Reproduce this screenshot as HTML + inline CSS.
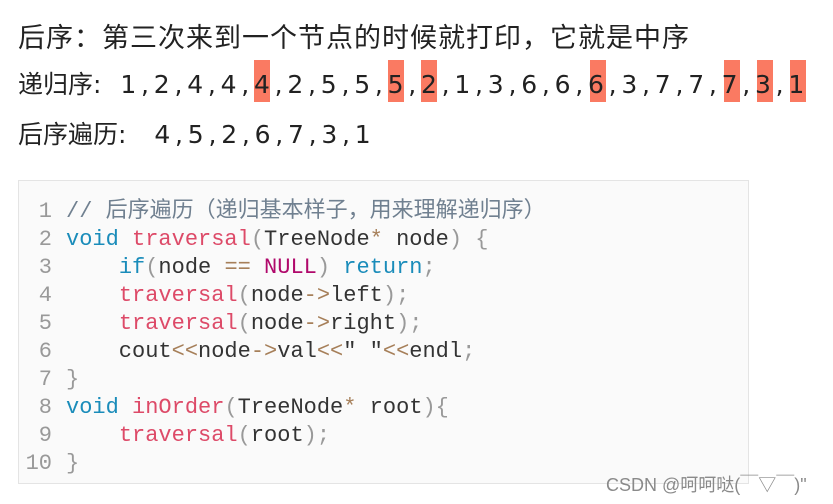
<!DOCTYPE html>
<html><head><meta charset="utf-8"><style>
body{margin:0;width:833px;height:504px;background:#fff;position:relative;overflow:hidden;font-family:"Liberation Sans","Noto Sans CJK SC",sans-serif;color:#222}
.t{position:absolute;font-size:25px;line-height:30px;white-space:nowrap}
.c{position:absolute;width:16.7px;text-align:center;font-size:25px;line-height:30px;font-family:"DejaVu Sans",sans-serif}
.hl{position:absolute;background:#fa7a62;width:16px;height:42px}
.box{position:absolute;left:18px;top:180px;width:731px;height:304px;background:#fafafa;border:1px solid #e4e4e4;box-sizing:border-box}
.code{position:absolute;left:20px;top:198px;font-family:"Liberation Mono","Noto Sans CJK SC",monospace;font-size:22px;line-height:28px;white-space:pre;color:#333}
.ln{color:#999;display:inline-block;width:32px;text-align:right;margin-right:14px}
.k{color:#1a8cba}.f{color:#dd4a68}.o{color:#a67f59}.n{color:#b0086b}.p{color:#999}.cm{color:#708090}
.wm{position:absolute;left:606px;top:471px;font-size:18px;color:#8a8a8a;white-space:nowrap}
</style></head><body>
<div class="t" style="left:18px;top:23px;font-size:27px;letter-spacing:1px">后序：第三次来到一个节点的时候就打印，它就是中序</div>
<div class="t" style="left:18px;top:70px">递归序<span style="font-family:'DejaVu Sans'">:</span></div>
<div class="hl" style="left:254px;top:60px"></div>
<div class="hl" style="left:388px;top:60px"></div>
<div class="hl" style="left:421px;top:60px"></div>
<div class="hl" style="left:590px;top:60px"></div>
<div class="hl" style="left:724px;top:60px"></div>
<div class="hl" style="left:757px;top:60px"></div>
<div class="hl" style="left:790px;top:60px"></div>
<div id="r1"></div>
<div class="t" style="left:18px;top:120px">后序遍历<span style="font-family:'DejaVu Sans'">:</span></div>
<div id="r2"></div>
<script>
function row(id,s,x0,top){var h='';for(var i=0;i<s.length;i++){h+='<div class="c" style="left:'+(x0+i*16.7)+'px;top:'+top+'px">'+s[i]+'</div>';}document.getElementById(id).innerHTML=h;}
row('r1','1,2,4,4,4,2,5,5,5,2,1,3,6,6,6,3,7,7,7,3,1',120,70);
row('r2','4,5,2,6,7,3,1',154,120);
</script>
<div class="box"></div>
<div class="code"><span class="ln">1</span><span class="cm">// 后序遍历（递归基本样子，用来理解递归序）</span>
<span class="ln">2</span><span class="k">void</span> <span class="f">traversal</span><span class="p">(</span>TreeNode<span class="o">*</span> node<span class="p">)</span> <span class="p">{</span>
<span class="ln">3</span>    <span class="k">if</span><span class="p">(</span>node <span class="o">==</span> <span class="n">NULL</span><span class="p">)</span> <span class="k">return</span><span class="p">;</span>
<span class="ln">4</span>    <span class="f">traversal</span><span class="p">(</span>node<span class="o">-&gt;</span>left<span class="p">);</span>
<span class="ln">5</span>    <span class="f">traversal</span><span class="p">(</span>node<span class="o">-&gt;</span>right<span class="p">);</span>
<span class="ln">6</span>    cout<span class="o">&lt;&lt;</span>node<span class="o">-&gt;</span>val<span class="o">&lt;&lt;</span>" "<span class="o">&lt;&lt;</span>endl<span class="p">;</span>
<span class="ln">7</span><span class="p">}</span>
<span class="ln">8</span><span class="k">void</span> <span class="f">inOrder</span><span class="p">(</span>TreeNode<span class="o">*</span> root<span class="p">){</span>
<span class="ln">9</span>    <span class="f">traversal</span><span class="p">(</span>root<span class="p">);</span>
<span class="ln">10</span><span class="p">}</span></div>
<div class="wm">CSDN @呵呵哒(￣▽￣)"</div>
</body></html>
